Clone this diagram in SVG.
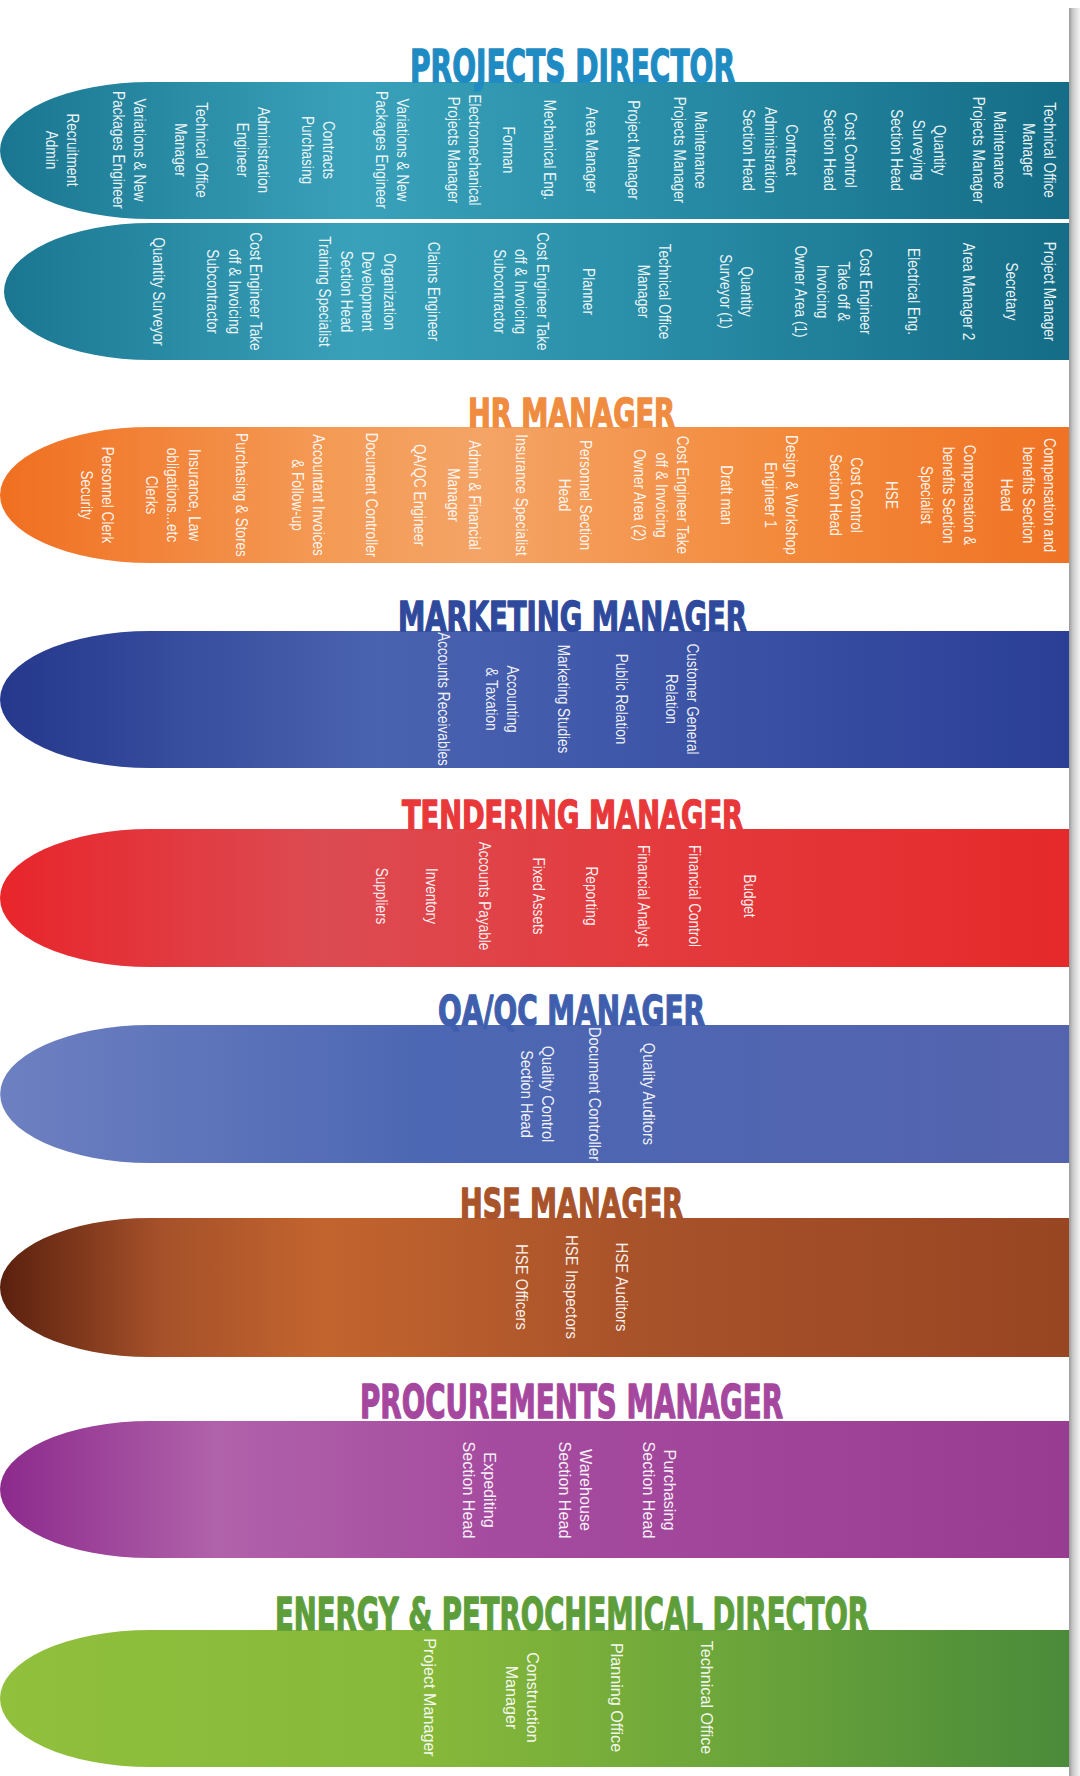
<svg xmlns="http://www.w3.org/2000/svg" width="1080" height="1776" viewBox="0 0 1080 1776">
<style>
.l{font-family:"Liberation Sans",Arial,sans-serif;font-size:17px;fill:#ffffff;fill-opacity:0.93;text-anchor:middle}
.t{font-family:"DejaVu Sans","Liberation Sans",sans-serif;font-weight:bold;stroke-width:1.4;stroke-linejoin:round}
</style>
<defs>
<linearGradient id="gTeal" gradientUnits="userSpaceOnUse" x1="0" y1="0" x2="1075" y2="0">
<stop offset="0" stop-color="#1a7690"/><stop offset="0.33" stop-color="#3aa1ba"/><stop offset="0.55" stop-color="#2c92ac"/><stop offset="1" stop-color="#146c86"/></linearGradient>
<linearGradient id="gOrange" gradientUnits="userSpaceOnUse" x1="0" y1="0" x2="1075" y2="0">
<stop offset="0" stop-color="#f06f20"/><stop offset="0.3" stop-color="#f49a55"/><stop offset="0.45" stop-color="#f4a466"/><stop offset="0.72" stop-color="#f38a3c"/><stop offset="1" stop-color="#f07224"/></linearGradient>
<linearGradient id="gNavy" gradientUnits="userSpaceOnUse" x1="0" y1="0" x2="1075" y2="0">
<stop offset="0" stop-color="#25388c"/><stop offset="0.35" stop-color="#4a63b0"/><stop offset="0.55" stop-color="#4159aa"/><stop offset="1" stop-color="#2a3e96"/></linearGradient>
<linearGradient id="gRed" gradientUnits="userSpaceOnUse" x1="0" y1="0" x2="1075" y2="0">
<stop offset="0" stop-color="#e8252b"/><stop offset="0.3" stop-color="#dc4b52"/><stop offset="0.6" stop-color="#e33b3e"/><stop offset="1" stop-color="#e6292a"/></linearGradient>
<linearGradient id="gBlue" gradientUnits="userSpaceOnUse" x1="0" y1="0" x2="1075" y2="0">
<stop offset="0" stop-color="#6d80c1"/><stop offset="0.4" stop-color="#4c67b3"/><stop offset="1" stop-color="#5463ae"/></linearGradient>
<linearGradient id="gBrown" gradientUnits="userSpaceOnUse" x1="0" y1="0" x2="1075" y2="0">
<stop offset="0" stop-color="#5a200e"/><stop offset="0.15" stop-color="#a6512a"/><stop offset="0.3" stop-color="#c2642e"/><stop offset="0.6" stop-color="#a8522a"/><stop offset="1" stop-color="#984522"/></linearGradient>
<linearGradient id="gPurple" gradientUnits="userSpaceOnUse" x1="0" y1="0" x2="1075" y2="0">
<stop offset="0" stop-color="#8c2a8c"/><stop offset="0.2" stop-color="#b062aa"/><stop offset="0.45" stop-color="#a64ca0"/><stop offset="1" stop-color="#983c92"/></linearGradient>
<linearGradient id="gGreen" gradientUnits="userSpaceOnUse" x1="0" y1="0" x2="1075" y2="0">
<stop offset="0" stop-color="#90c03c"/><stop offset="0.4" stop-color="#86b83a"/><stop offset="0.7" stop-color="#6aa43a"/><stop offset="1" stop-color="#4a8a3a"/></linearGradient>
<linearGradient id="gEdge" x1="0" y1="0" x2="1" y2="0">
<stop offset="0" stop-color="#9a9a9a"/><stop offset="0.35" stop-color="#cacaca"/><stop offset="1" stop-color="#f4f4f4"/></linearGradient>
</defs>
<rect x="0" y="0" width="1080" height="1776" fill="#ffffff"/>

<g id="projects-director">
<path d="M150,82 H1075 V219 H150 A150 68.5 0 0 1 150 82 Z" fill="url(#gTeal)"/>
<path d="M150,223 H1075 V360 H150 A146 68.5 0 0 1 150 223 Z" fill="url(#gTeal)"/>
<text class="t" x="410" y="82" font-size="45" textLength="325" lengthAdjust="spacingAndGlyphs" fill="#1e8bc3" stroke="#1e8bc3">PROJECTS DIRECTOR</text>
<g transform="translate(67,150) rotate(90) scale(0.8,1)"><text class="l"><tspan x="0">Recruitment</tspan><tspan x="0" dy="21.5">Admin</tspan></text></g>
<g transform="translate(134,150) rotate(90) scale(0.8,1)"><text class="l"><tspan x="0">Variations &amp; New</tspan><tspan x="0" dy="21.5">Packages Engineer</tspan></text></g>
<g transform="translate(196,150) rotate(90) scale(0.8,1)"><text class="l"><tspan x="0">Technical Office</tspan><tspan x="0" dy="21.5">Manager</tspan></text></g>
<g transform="translate(258,150) rotate(90) scale(0.8,1)"><text class="l"><tspan x="0">Administration</tspan><tspan x="0" dy="21.5">Engineer</tspan></text></g>
<g transform="translate(323,150) rotate(90) scale(0.8,1)"><text class="l"><tspan x="0">Contracts</tspan><tspan x="0" dy="21.5">Purchasing</tspan></text></g>
<g transform="translate(397,150) rotate(90) scale(0.8,1)"><text class="l"><tspan x="0">Variations &amp; New</tspan><tspan x="0" dy="21.5">Packages Engineer</tspan></text></g>
<g transform="translate(469,150) rotate(90) scale(0.8,1)"><text class="l"><tspan x="0">Electromechanical</tspan><tspan x="0" dy="21.5">Projects Manager</tspan></text></g>
<g transform="translate(502.5,150) rotate(90) scale(0.8,1)"><text class="l">Forman</text></g>
<g transform="translate(543.5,150) rotate(90) scale(0.8,1)"><text class="l">Mechanical Eng.</text></g>
<g transform="translate(585.5,150) rotate(90) scale(0.8,1)"><text class="l">Area Manager</text></g>
<g transform="translate(627.5,150) rotate(90) scale(0.8,1)"><text class="l">Project Manager</text></g>
<g transform="translate(695,150) rotate(90) scale(0.8,1)"><text class="l"><tspan x="0">Maintenance</tspan><tspan x="0" dy="21.5">Projects Manager</tspan></text></g>
<g transform="translate(786,150) rotate(90) scale(0.8,1)"><text class="l"><tspan x="0">Contract</tspan><tspan x="0" dy="21.5">Administration</tspan><tspan x="0" dy="21.5">Section Head</tspan></text></g>
<g transform="translate(845,150) rotate(90) scale(0.8,1)"><text class="l"><tspan x="0">Cost Control</tspan><tspan x="0" dy="21.5">Section Head</tspan></text></g>
<g transform="translate(934,150) rotate(90) scale(0.8,1)"><text class="l"><tspan x="0">Quantity</tspan><tspan x="0" dy="21.5">Surveying</tspan><tspan x="0" dy="21.5">Section Head</tspan></text></g>
<g transform="translate(994,150) rotate(90) scale(0.8,1)"><text class="l"><tspan x="0">Maintenance</tspan><tspan x="0" dy="21.5">Projects Manager</tspan></text></g>
<g transform="translate(1044,150) rotate(90) scale(0.8,1)"><text class="l"><tspan x="0">Technical Office</tspan><tspan x="0" dy="21.5">Manager</tspan></text></g>

<g transform="translate(152.5,291.5) rotate(90) scale(0.8,1)"><text class="l">Quantity Surveyor</text></g>
<g transform="translate(250,291.5) rotate(90) scale(0.8,1)"><text class="l"><tspan x="0">Cost Engineer Take</tspan><tspan x="0" dy="21.5">off &amp; Invoicing</tspan><tspan x="0" dy="21.5">Subcontractor</tspan></text></g>
<g transform="translate(383.5,291.5) rotate(90) scale(0.8,1)"><text class="l"><tspan x="0">Organization</tspan><tspan x="0" dy="21.5">Development</tspan><tspan x="0" dy="21.5">Section Head</tspan><tspan x="0" dy="21.5">Training Specialist</tspan></text></g>
<g transform="translate(427.5,291.5) rotate(90) scale(0.8,1)"><text class="l">Claims Engineer</text></g>
<g transform="translate(536.5,291.5) rotate(90) scale(0.8,1)"><text class="l"><tspan x="0">Cost Engineer Take</tspan><tspan x="0" dy="21.5">off &amp; Invoicing</tspan><tspan x="0" dy="21.5">Subcontractor</tspan></text></g>
<g transform="translate(582.5,291.5) rotate(90) scale(0.8,1)"><text class="l">Planner</text></g>
<g transform="translate(659,291.5) rotate(90) scale(0.8,1)"><text class="l"><tspan x="0">Technical Office</tspan><tspan x="0" dy="21.5">Manager</tspan></text></g>
<g transform="translate(741,291.5) rotate(90) scale(0.8,1)"><text class="l"><tspan x="0">Quantity</tspan><tspan x="0" dy="21.5">Surveyor (1)</tspan></text></g>
<g transform="translate(859.5,291.5) rotate(90) scale(0.8,1)"><text class="l"><tspan x="0">Cost Engineer</tspan><tspan x="0" dy="21.5">Take off &amp;</tspan><tspan x="0" dy="21.5">Invoicing</tspan><tspan x="0" dy="21.5">Owner Area (1)</tspan></text></g>
<g transform="translate(907.5,291.5) rotate(90) scale(0.8,1)"><text class="l">Electrical Eng.</text></g>
<g transform="translate(962.5,291.5) rotate(90) scale(0.8,1)"><text class="l">Area Manager 2</text></g>
<g transform="translate(1005.5,291.5) rotate(90) scale(0.8,1)"><text class="l">Secretary</text></g>
<g transform="translate(1043.5,291.5) rotate(90) scale(0.8,1)"><text class="l">Project Manager</text></g>
</g>

<g id="hr-manager">
<path d="M150,427 H1075 V563 H150 A150 68 0 0 1 150 427 Z" fill="url(#gOrange)"/>
<text class="t" x="468" y="427" font-size="38.5" textLength="207" lengthAdjust="spacingAndGlyphs" fill="#f08c40" stroke="#f08c40">HR MANAGER</text>
<g transform="translate(102,495) rotate(90) scale(0.8,1)"><text class="l"><tspan x="0">Personnel Clerk</tspan><tspan x="0" dy="21.5">Security</tspan></text></g>
<g transform="translate(188.5,495) rotate(90) scale(0.8,1)"><text class="l"><tspan x="0">Insurance, Law</tspan><tspan x="0" dy="21.5">obligations...etc</tspan><tspan x="0" dy="21.5">Clerks</tspan></text></g>
<g transform="translate(235.5,495) rotate(90) scale(0.8,1)"><text class="l">Purchasing &amp; Stores</text></g>
<g transform="translate(313,495) rotate(90) scale(0.8,1)"><text class="l"><tspan x="0">Accountant Invoices</tspan><tspan x="0" dy="21.5">&amp; Follow-up</tspan></text></g>
<g transform="translate(365.5,495) rotate(90) scale(0.8,1)"><text class="l">Document Controller</text></g>
<g transform="translate(413.5,495) rotate(90) scale(0.8,1)"><text class="l">QA/QC Engineer</text></g>
<g transform="translate(469,495) rotate(90) scale(0.8,1)"><text class="l"><tspan x="0">Admin &amp; Financial</tspan><tspan x="0" dy="21.5">Manager</tspan></text></g>
<g transform="translate(515.5,495) rotate(90) scale(0.8,1)"><text class="l">Insurance Specialist</text></g>
<g transform="translate(580,495) rotate(90) scale(0.8,1)"><text class="l"><tspan x="0">Personnel Section</tspan><tspan x="0" dy="21.5">Head</tspan></text></g>
<g transform="translate(677,495) rotate(90) scale(0.8,1)"><text class="l"><tspan x="0">Cost Engineer Take</tspan><tspan x="0" dy="21.5">off &amp; Invoicing</tspan><tspan x="0" dy="21.5">Owner Area (2)</tspan></text></g>
<g transform="translate(720.5,495) rotate(90) scale(0.8,1)"><text class="l">Draft man</text></g>
<g transform="translate(786,495) rotate(90) scale(0.8,1)"><text class="l"><tspan x="0">Design &amp; Workshop</tspan><tspan x="0" dy="21.5">Engineer 1</tspan></text></g>
<g transform="translate(851,495) rotate(90) scale(0.8,1)"><text class="l"><tspan x="0">Cost Control</tspan><tspan x="0" dy="21.5">Section Head</tspan></text></g>
<g transform="translate(885.5,495) rotate(90) scale(0.8,1)"><text class="l">HSE</text></g>
<g transform="translate(964,495) rotate(90) scale(0.8,1)"><text class="l"><tspan x="0">Compensation &amp;</tspan><tspan x="0" dy="21.5">benefits Section</tspan><tspan x="0" dy="21.5">Specialist</tspan></text></g>
<g transform="translate(1044,495) rotate(90) scale(0.8,1)"><text class="l"><tspan x="0">Compensation and</tspan><tspan x="0" dy="21.5">benefits Section</tspan><tspan x="0" dy="21.5">Head</tspan></text></g>
</g>

<g id="marketing-manager">
<path d="M150,631 H1075 V768 H150 A150 68.5 0 0 1 150 631 Z" fill="url(#gNavy)"/>
<text class="t" x="398" y="631" font-size="40" textLength="349" lengthAdjust="spacingAndGlyphs" fill="#2f4a9c" stroke="#2f4a9c">MARKETING MANAGER</text>
<g transform="translate(687,699) rotate(90) scale(0.8,1)"><text class="l"><tspan x="0">Customer General</tspan><tspan x="0" dy="21.5">Relation</tspan></text></g>
<g transform="translate(615.5,699) rotate(90) scale(0.8,1)"><text class="l">Public Relation</text></g>
<g transform="translate(557.5,699) rotate(90) scale(0.8,1)"><text class="l">Marketing Studies</text></g>
<g transform="translate(507,699) rotate(90) scale(0.8,1)"><text class="l"><tspan x="0">Accounting</tspan><tspan x="0" dy="21.5">&amp; Taxation</tspan></text></g>
<g transform="translate(437.5,699) rotate(90) scale(0.8,1)"><text class="l">Accounts Receivables</text></g>
</g>

<g id="tendering-manager">
<path d="M150,829 H1075 V967 H150 A150 69 0 0 1 150 829 Z" fill="url(#gRed)"/>
<text class="t" x="402" y="829" font-size="38.5" textLength="341" lengthAdjust="spacingAndGlyphs" fill="#e8383a" stroke="#e8383a">TENDERING MANAGER</text>
<g transform="translate(743.5,896) rotate(90) scale(0.8,1)"><text class="l">Budget</text></g>
<g transform="translate(688.5,896) rotate(90) scale(0.8,1)"><text class="l">Financial Control</text></g>
<g transform="translate(637.5,896) rotate(90) scale(0.8,1)"><text class="l">Financial Analyst</text></g>
<g transform="translate(585.5,896) rotate(90) scale(0.8,1)"><text class="l">Reporting</text></g>
<g transform="translate(532.5,896) rotate(90) scale(0.8,1)"><text class="l">Fixed Assets</text></g>
<g transform="translate(478.5,896) rotate(90) scale(0.8,1)"><text class="l">Accounts Payable</text></g>
<g transform="translate(425.5,896) rotate(90) scale(0.8,1)"><text class="l">Inventory</text></g>
<g transform="translate(375.5,896) rotate(90) scale(0.8,1)"><text class="l">Suppliers</text></g>
</g>

<g id="qaqc-manager">
<path d="M150,1025 H1075 V1163 H150 A150 69 0 0 1 150 1025 Z" fill="url(#gBlue)"/>
<text class="t" x="438" y="1025" font-size="41" textLength="267" lengthAdjust="spacingAndGlyphs" fill="#3f5fae" stroke="#3f5fae">QA/QC MANAGER</text>
<g transform="translate(642.5,1094) rotate(90) scale(0.86,1)"><text class="l">Quality Auditors</text></g>
<g transform="translate(588.5,1094) rotate(90) scale(0.86,1)"><text class="l">Document Controller</text></g>
<g transform="translate(542,1094) rotate(90) scale(0.86,1)"><text class="l"><tspan x="0">Quality Control</tspan><tspan x="0" dy="21.5">Section Head</tspan></text></g>
</g>

<g id="hse-manager">
<path d="M150,1218 H1075 V1357 H150 A150 69.5 0 0 1 150 1218 Z" fill="url(#gBrown)"/>
<text class="t" x="460" y="1218" font-size="40" textLength="223" lengthAdjust="spacingAndGlyphs" fill="#a8532a" stroke="#a8532a">HSE MANAGER</text>
<g transform="translate(615.5,1287) rotate(90) scale(0.88,1)"><text class="l">HSE Auditors</text></g>
<g transform="translate(565.5,1287) rotate(90) scale(0.88,1)"><text class="l">HSE Inspectors</text></g>
<g transform="translate(515.5,1287) rotate(90) scale(0.88,1)"><text class="l">HSE Officers</text></g>
</g>

<g id="procurements-manager">
<path d="M150,1421 H1075 V1558 H150 A150 68.5 0 0 1 150 1421 Z" fill="url(#gPurple)"/>
<text class="t" x="360" y="1418" font-size="46" textLength="423" lengthAdjust="spacingAndGlyphs" fill="#a5479e" stroke="#a5479e">PROCUREMENTS MANAGER</text>
<g transform="translate(664,1490) rotate(90) scale(0.95,1)"><text class="l"><tspan x="0">Purchasing</tspan><tspan x="0" dy="21.5">Section Head</tspan></text></g>
<g transform="translate(580,1490) rotate(90) scale(0.95,1)"><text class="l"><tspan x="0">Warehouse</tspan><tspan x="0" dy="21.5">Section Head</tspan></text></g>
<g transform="translate(484,1490) rotate(90) scale(0.95,1)"><text class="l"><tspan x="0">Expediting</tspan><tspan x="0" dy="21.5">Section Head</tspan></text></g>
</g>

<g id="energy-petrochemical-director">
<path d="M150,1630 H1075 V1767 H150 A150 68.5 0 0 1 150 1630 Z" fill="url(#gGreen)"/>
<text class="t" x="275" y="1630" font-size="45" textLength="594" lengthAdjust="spacingAndGlyphs" fill="#5e9e3a" stroke="#5e9e3a">ENERGY &amp; PETROCHEMICAL DIRECTOR</text>
<g transform="translate(700.5,1697.5) rotate(90) scale(0.95,1)"><text class="l">Technical Office</text></g>
<g transform="translate(610.5,1697.5) rotate(90) scale(0.95,1)"><text class="l">Planning Office</text></g>
<g transform="translate(527,1697.5) rotate(90) scale(0.95,1)"><text class="l"><tspan x="0">Construction</tspan><tspan x="0" dy="21.5">Manager</tspan></text></g>
<g transform="translate(423.5,1697.5) rotate(90) scale(0.95,1)"><text class="l">Project Manager</text></g>
</g>

<g id="connectors"></g>
<rect x="1069" y="8" width="11" height="1768" fill="url(#gEdge)"/>
</svg>
